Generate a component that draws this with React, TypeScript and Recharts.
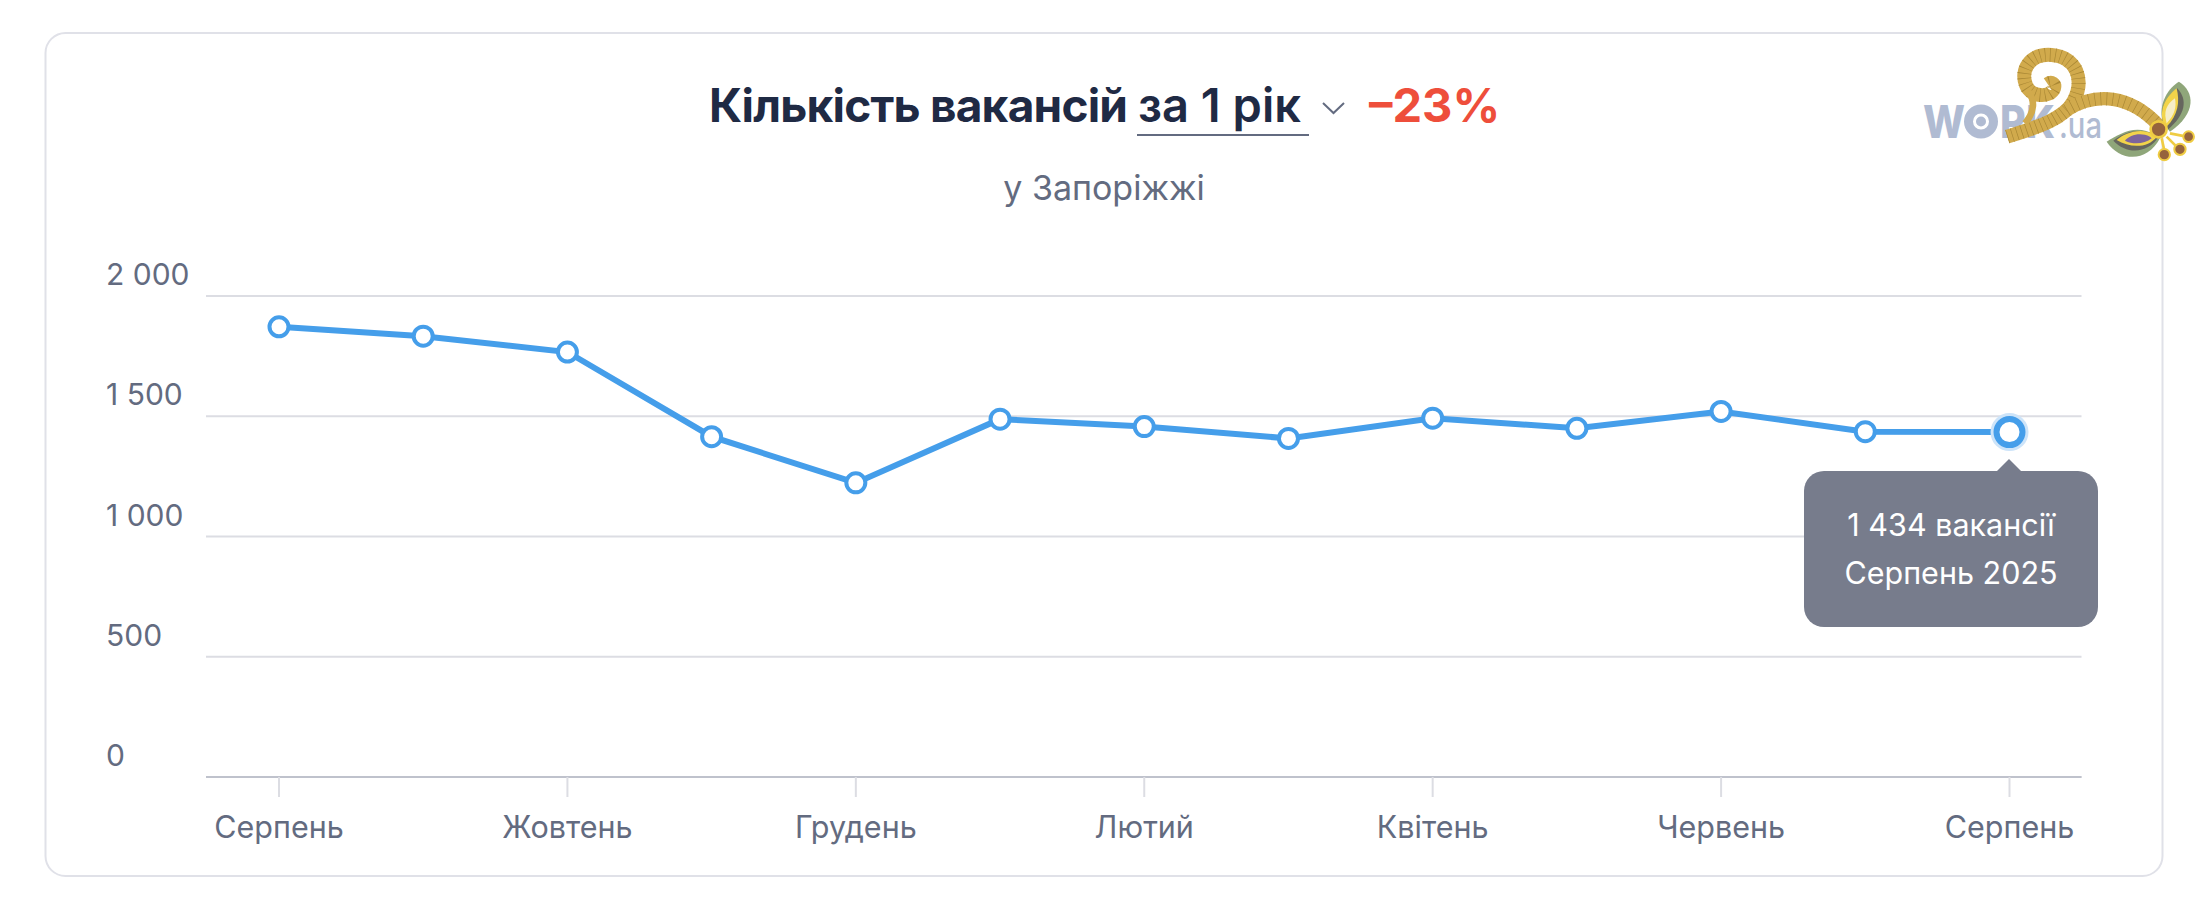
import { LineChart, Line, XAxis, YAxis, CartesianGrid, Tooltip } from "recharts"

const months = [
  "Серпень 2024",
  "Вересень 2024",
  "Жовтень 2024",
  "Листопад 2024",
  "Грудень 2024",
  "Січень 2025",
  "Лютий 2025",
  "Березень 2025",
  "Квітень 2025",
  "Травень 2025",
  "Червень 2025",
  "Липень 2025",
  "Серпень 2025",
]
const vacancies = [1872, 1833, 1767, 1415, 1223, 1488, 1457, 1408, 1492, 1450, 1520, 1436, 1434]
const yTicks = [0, 500, 1000, 1500, 2000]

const data = months.map((month, i) => ({ month, value: vacancies[i] }))

const FONT = "Inter, sans-serif"
const BLUE = "#459eea"
const GREY_TEXT = "#636b80"
const GOLD = "#d1aa4c"
const LOGO = "#b0bbd2"

const spaced = (v: number) => String(v).replace(/\B(?=(\d{3})+$)/g, " ")

function YTick({ y, payload }: any) {
  return (
    <text x={106} y={y - 11} textAnchor="start" fontFamily={FONT} fontSize={30} fill={GREY_TEXT}>
      {spaced(payload.value)}
    </text>
  )
}

function ActiveDot({ cx, cy }: any) {
  return (
    <g>
      <circle cx={cx} cy={cy} r={19} fill="#cde4f9" />
      <circle cx={cx} cy={cy} r={13} fill="#fff" stroke={BLUE} strokeWidth={6} />
    </g>
  )
}

function Bubble({ active, payload, label }: any) {
  if (!active || !payload || !payload.length) return null
  return (
    <div style={{ position: "relative", width: 294, height: 156, marginTop: 12, background: "#777c8c", borderRadius: 20, color: "#fff", fontFamily: FONT, fontSize: 30.5, textAlign: "center" }}>
      <div style={{ position: "absolute", left: 193, top: -12, width: 0, height: 0, borderLeft: "12px solid transparent", borderRight: "12px solid transparent", borderBottom: "12px solid #777c8c" }} />
      <div style={{ position: "absolute", left: 0, right: 0, top: 30, lineHeight: "48px", whiteSpace: "nowrap" }}>
        {spaced(payload[0].value)} вакансії
        <br />
        {label}
      </div>
    </div>
  )
}

// rough stand-in for the gold mosaic sprig on the logo
const SCROLL = "M682 350 C760 325 850 300 880 245 C915 180 890 110 815 105 C750 100 720 150 738 195 C752 232 810 235 822 205 C826 192 815 184 803 192"
const BRANCH = "M860 270 C950 215 1050 225 1135 315"

function Ornament() {
  return (
    <g transform="translate(1780 20) scale(0.3333)">
      <path d={SCROLL} fill="none" stroke={GOLD} strokeWidth={42} />
      <path d={SCROLL} fill="none" stroke="#a98734" strokeWidth={42} strokeDasharray="2 13" />
      <path d="M745 215 C765 240 765 275 735 310" fill="none" stroke={GOLD} strokeWidth={20} />
      <path d={BRANCH} fill="none" stroke={GOLD} strokeWidth={40} />
      <path d={BRANCH} fill="none" stroke="#a98734" strokeWidth={40} strokeDasharray="2 16" />
      <path d="M1150 310 C1130 250 1170 200 1197 185 C1245 215 1250 280 1170 335 Z" fill="#8fa67a" />
      <path d="M1150 310 C1135 260 1165 225 1192 205 C1225 240 1215 285 1165 328 Z" fill="#66665e" />
      <path d="M1150 310 C1135 260 1165 225 1190 205 C1200 245 1195 285 1160 320 Z" fill="#f2d44a" />
      <path d="M1158 300 C1150 265 1170 245 1185 235 C1190 260 1185 285 1160 310 Z" fill="#f6eec8" />
      <path d="M1125 345 C1070 310 1020 340 980 365 C1020 425 1100 430 1140 355 Z" fill="#8fa67a" />
      <path d="M1125 345 C1070 320 1030 340 1000 362 C1040 405 1105 400 1135 352 Z" fill="#66665e" />
      <path d="M1125 345 C1080 320 1035 340 1010 360 C1050 385 1105 385 1130 350 Z" fill="#f2d44a" />
      <path d="M1110 350 C1080 335 1050 345 1035 362 C1060 375 1095 372 1115 355 Z" fill="#7d659c" />
      <g stroke="#efcc43" strokeWidth={8}>
        <line x1="1170" y1="340" x2="1220" y2="350" />
        <line x1="1160" y1="350" x2="1195" y2="385" />
        <line x1="1145" y1="355" x2="1155" y2="400" />
      </g>
      <circle cx="1136" cy="328" r="24" fill="#96643c" stroke="#efcc43" strokeWidth={8} />
      <circle cx="1226" cy="350" r="16" fill="#96643c" stroke="#efcc43" strokeWidth={6} />
      <circle cx="1200" cy="388" r="17" fill="#96643c" stroke="#efcc43" strokeWidth={6} />
      <circle cx="1153" cy="404" r="17" fill="#96643c" stroke="#efcc43" strokeWidth={6} />
    </g>
  )
}

function Header() {
  return (
    <svg width={2210} height={902} style={{ position: "absolute", left: 0, top: 0 }}>
      <rect x={45.5} y={33} width={2117} height={843} rx={20} fill="#fff" stroke="#e0e1e8" strokeWidth={2} />
      <g fontFamily={FONT} fontSize={46}>
        <text x={709} y={122} fontWeight={700} letterSpacing={-0.8} fill="#1f2a44">Кількість вакансій</text>
        <text x={1138} y={122} fontSize={47} fontWeight={600} fill="#1f2a44">за 1 рік</text>
        <text x={1369} y={122} fontSize={47} fontWeight={700} fill="#ee4e3b">–23%</text>
      </g>
      <line x1={1137} y1={135} x2={1309} y2={135} stroke={GREY_TEXT} strokeWidth={2} />
      <path d="M1323 103 L1333.5 113 L1344 103" fill="none" stroke={GREY_TEXT} strokeWidth={2} />
      <text x={1104} y={200} textAnchor="middle" fontFamily={FONT} fontSize={34} fill={GREY_TEXT}>у Запоріжжі</text>
      <g fontFamily={FONT} fill={LOGO}>
        <text x={1923} y={138} fontSize={45} fontWeight={800} textLength={42} lengthAdjust="spacingAndGlyphs">W</text>
        <circle cx={1981} cy={121.5} r={12.5} fill="none" stroke={LOGO} strokeWidth={9} />
        <circle cx={1981} cy={121.5} r={5} />
        <text x={2000} y={138} fontSize={45} fontWeight={800} textLength={55} lengthAdjust="spacingAndGlyphs">RK</text>
        <text x={2059} y={138} fontSize={36} fontWeight={500} textLength={43} lengthAdjust="spacingAndGlyphs">.ua</text>
      </g>
      <Ornament />
    </svg>
  )
}

export default function App() {
  return (
    <div style={{ position: "absolute", left: 0, top: 0, width: 2210, height: 902, background: "#fff" }}>
      <Header />
      <LineChart width={2210} height={902} data={data} margin={{ top: 296, right: 128.5, bottom: 0, left: 106 }} style={{ position: "absolute", left: 0, top: 0 }}>
        <CartesianGrid vertical={false} stroke="#dcdde3" strokeWidth={2} />
        <XAxis
          dataKey="month"
          interval={1}
          padding={{ left: 73, right: 72 }}
          height={125}
          tickSize={20}
          tickMargin={19}
          tickLine={{ stroke: "#dcdde3", strokeWidth: 2 }}
          axisLine={{ stroke: "#bfc2cc", strokeWidth: 2 }}
          tick={{ fontFamily: FONT, fontSize: 30.5, fill: GREY_TEXT }}
          tickFormatter={(m: string) => m.split(" ")[0]}
        />
        <YAxis width={100} domain={[0, 2000]} ticks={yTicks} axisLine={false} tickLine={false} tick={<YTick />} />
        <Tooltip defaultIndex={12} cursor={false} content={<Bubble />} position={{ x: 1804, y: 459 }} isAnimationActive={false} wrapperStyle={{ outline: "none" }} />
        <Line
          dataKey="value"
          type="linear"
          stroke={BLUE}
          strokeWidth={6}
          dot={{ r: 9.5, fill: "#fff", stroke: BLUE, strokeWidth: 4 }}
          activeDot={<ActiveDot />}
          isAnimationActive={false}
        />
      </LineChart>
    </div>
  )
}
